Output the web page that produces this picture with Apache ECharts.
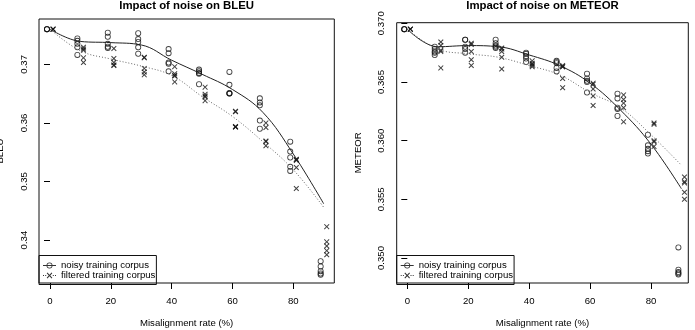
<!DOCTYPE html>
<html><head><meta charset="utf-8">
<script src="https://cdn.jsdelivr.net/npm/echarts@6/dist/echarts.min.js"></script>
<style>html,body{margin:0;padding:0;background:#fff}#c{width:695px;height:330px}</style>
</head><body><div id="c"></div>
<script>
// ---------- data ----------
const rates = [0, 10, 20, 30, 40, 50, 60, 70, 80, 90];
const xTicks = [0, 20, 40, 60, 80];
const bleuTicks = [0.34, 0.35, 0.36, 0.37];
const meteorTicks = [0.350, 0.355, 0.360, 0.365, 0.370];
const legendNames = ['noisy training corpus', 'filtered training corpus'];
const titles = ['Impact of noise on BLEU', 'Impact of noise on METEOR'];
const xName = 'Misalignment rate (%)';
const yNames = ['BLEU', 'METEOR'];

// replicate runs per misalignment rate
const bleuNoisy = [
  [0.3760, 0.3760, 0.3760],
  [0.3744, 0.3740, 0.3735, 0.3729, 0.3716],
  [0.3754, 0.3747, 0.3735, 0.3730, 0.3728],
  [0.3753, 0.3743, 0.3738, 0.3729, 0.3718],
  [0.3726, 0.3719, 0.3703, 0.3701, 0.3688],
  [0.3691, 0.3688, 0.3685, 0.3684, 0.3666],
  [0.3687, 0.3665, 0.3651, 0.3650, 0.3650],
  [0.3642, 0.3635, 0.3630, 0.3604, 0.3590],
  [0.3568, 0.3551, 0.3541, 0.3525, 0.3518],
  [0.3364, 0.3355, 0.3347, 0.3343, 0.3341]
];
const bleuFiltered = [
  [0.3760, 0.3760, 0.3760],
  [0.3729, 0.3726, 0.3724, 0.3711, 0.3703],
  [0.3727, 0.3710, 0.3703, 0.3699, 0.3698],
  [0.3712, 0.3711, 0.3693, 0.3687, 0.3682],
  [0.3696, 0.3684, 0.3681, 0.3680, 0.3670],
  [0.3661, 0.3649, 0.3646, 0.3644, 0.3638],
  [0.3620, 0.3619, 0.3594, 0.3593, 0.3593],
  [0.3600, 0.3592, 0.3569, 0.3568, 0.3561],
  [0.3538, 0.3537, 0.3536, 0.3524, 0.3488],
  [0.3423, 0.3397, 0.3390, 0.3382, 0.3375]
];
const meteorNoisy = [
  [0.3695, 0.3695, 0.3695],
  [0.3680, 0.3678, 0.3676, 0.3675, 0.3673],
  [0.3686, 0.3686, 0.3680, 0.3678, 0.3675],
  [0.3686, 0.3683, 0.3681, 0.3680, 0.3679],
  [0.3675, 0.3674, 0.3672, 0.3670, 0.3667],
  [0.3668, 0.3667, 0.3666, 0.3662, 0.3659],
  [0.3657, 0.3653, 0.3651, 0.3650, 0.3641],
  [0.3640, 0.3636, 0.3628, 0.3627, 0.3621],
  [0.3605, 0.3596, 0.3593, 0.3591, 0.3589],
  [0.3509, 0.3490, 0.3488, 0.3487, 0.3486]
];
const meteorFiltered = [
  [0.3695, 0.3695, 0.3695],
  [0.3684, 0.3681, 0.3677, 0.3676, 0.3662],
  [0.3683, 0.3682, 0.3676, 0.3669, 0.3664],
  [0.3679, 0.3678, 0.3676, 0.3671, 0.3661],
  [0.3668, 0.3666, 0.3665, 0.3664, 0.3663],
  [0.3664, 0.3663, 0.3663, 0.3653, 0.3645],
  [0.3649, 0.3648, 0.3644, 0.3638, 0.3630],
  [0.3639, 0.3635, 0.3632, 0.3628, 0.3616],
  [0.3615, 0.3614, 0.3600, 0.3599, 0.3595],
  [0.3569, 0.3565, 0.3564, 0.3556, 0.3550]
];
// smoothed fits at each rate
const bleuNoisyFit    = [0.3760, 0.3739, 0.3737, 0.3733, 0.3707, 0.3683, 0.3657, 0.3618, 0.3547, 0.3462];
const bleuFilteredFit = [0.3760, 0.3723, 0.3709, 0.3697, 0.3681, 0.3645, 0.3611, 0.3568, 0.3520, 0.3456];
const meteorNoisyFit    = [0.3695, 0.3680, 0.3681, 0.3680, 0.3673, 0.3664, 0.3649, 0.3626, 0.3597, 0.3559];
const meteorFilteredFit = [0.3695, 0.3678, 0.3674, 0.3671, 0.3664, 0.3656, 0.3641, 0.3628, 0.3605, 0.3579];
const jitter = 1; // noisy drawn at rate-1, filtered at rate+1

// ---------- build ----------
const FONT = 'Liberation Sans, Arial, sans-serif';
const RING = 'path://M5,0A5,5,0,1,1,5,10A5,5,0,1,1,5,0ZM5,1.4A3.6,3.6,0,1,0,5,8.6A3.6,3.6,0,1,0,5,1.4Z';
const CROSS = 'path://M0,1.3L1.3,0L5,3.7L8.7,0L10,1.3L6.3,5L10,8.7L8.7,10L5,6.3L1.3,10L0,8.7L3.7,5Z';
// legend keys (13 x 6 box): line + open circle, dotted line + cross
const KEY_NOISY = 'path://M0,2.5H13V3.5H0Z' +
  'M6.5,0A3,3,0,1,1,6.5,6A3,3,0,1,1,6.5,0Z' +
  'M6.5,0.75A2.25,2.25,0,1,0,6.5,5.25A2.25,2.25,0,1,0,6.5,0.75Z';
const KEY_FILTERED = 'path://M0,2.5H1V3.5H0ZM2.2,2.5H3.2V3.5H2.2ZM9.8,2.5H10.8V3.5H9.8ZM12,2.5H13V3.5H12Z' +
  'M3.7,0.75L4.45,0L6.5,2.25L8.55,0L9.3,0.75L7.25,3L9.3,5.25L8.55,6L6.5,3.75L4.45,6L3.7,5.25L5.75,3Z';

function pts(lists, off) {
  const out = [];
  lists.forEach((vals, i) => vals.forEach(v => out.push([rates[i] + off, v])));
  return out;
}
function fit(vals) { return vals.map((v, i) => [rates[i], v]); }

const grids = [
  {left: 39, top: 19, width: 295.3, height: 264},
  {left: 396.7, top: 22.7, width: 291.6, height: 260.3}
];
const xRanges = [[-3.62, 93.49], [-3.48, 92.25]];
const yRanges = [[0.33268, 0.37773], [0.34787, 0.37005]];
const yTickSets = [bleuTicks, meteorTicks];
const yDigits = [2, 3];

const textBase = {fontFamily: FONT, color: '#000'};

const option = {
  animation: false,
  backgroundColor: '#fff',
  title: titles.map((t, i) => ({
    text: t, left: grids[i].left + grids[i].width / 2, top: 0.5, textAlign: 'center', padding: 0,
    textStyle: Object.assign({fontSize: 11.4, fontWeight: 'bold'}, textBase)
  })),
  grid: grids.map(g => Object.assign({show: true, borderColor: '#111', borderWidth: 1, backgroundColor: 'transparent', containLabel: false, outerBoundsMode: 'none'}, g)),
  xAxis: [0, 1].map(i => ({
    type: 'value', gridIndex: i, min: xRanges[i][0], max: xRanges[i][1],
    name: xName, nameLocation: 'middle', nameGap: 35,
    nameTextStyle: Object.assign({fontSize: 9.6}, textBase),
    axisLine: {show: false}, splitLine: {show: false},
    axisTick: {show: true, inside: false, length: 6, customValues: xTicks, lineStyle: {color: '#000', width: 1}},
    axisLabel: Object.assign({customValues: xTicks, margin: 13, fontSize: 9.6}, textBase)
  })),
  yAxis: [0, 1].map(i => ({
    type: 'value', gridIndex: i, min: yRanges[i][0], max: yRanges[i][1],
    name: yNames[i], nameLocation: 'middle', nameGap: 33.5,
    nameTextStyle: Object.assign({fontSize: 9.6}, textBase),
    axisLine: {show: false}, splitLine: {show: false},
    axisTick: {show: true, inside: false, length: 6, customValues: yTickSets[i], lineStyle: {color: '#000', width: 1}},
    axisLabel: Object.assign({customValues: yTickSets[i], rotate: 90, margin: 10, fontSize: 9.6,
      formatter: v => Number(v).toFixed(yDigits[i])}, textBase)
  })),
  legend: [0, 1].map(i => ({
    left: grids[i].left, top: 255.5, orient: 'vertical',
    data: [{name: legendNames[0], icon: KEY_NOISY}, {name: legendNames[1], icon: KEY_FILTERED}],
    itemWidth: 13, itemHeight: 6, itemGap: 0, padding: [5, 1, 4, 4],
    borderColor: '#111', borderWidth: 1, borderRadius: 0, selectedMode: false,
    itemStyle: {borderWidth: 0},
    textStyle: Object.assign({fontSize: 9.6, lineHeight: 9.5}, textBase)
  })),
  series: []
};

const panels = [
  [bleuNoisy, bleuFiltered, bleuNoisyFit, bleuFilteredFit],
  [meteorNoisy, meteorFiltered, meteorNoisyFit, meteorFilteredFit]
];
panels.forEach((p, i) => {
  option.series.push({
    type: 'scatter', name: 'noisy pts ' + i, xAxisIndex: i, yAxisIndex: i,
    data: pts(p[0], -jitter), symbol: RING, symbolSize: 6, itemStyle: {color: '#111'}, silent: true
  });
  option.series.push({
    type: 'scatter', name: 'filtered pts ' + i, xAxisIndex: i, yAxisIndex: i,
    data: pts(p[1], jitter), symbol: CROSS, symbolSize: 5.5, itemStyle: {color: '#111'}, silent: true
  });
  option.series.push({
    type: 'line', name: legendNames[0], xAxisIndex: i, yAxisIndex: i, data: fit(p[2]),
    smooth: 0.4, symbol: 'none', itemStyle: {color: '#333', borderWidth: 0},
    lineStyle: {color: '#222', width: 1, type: 'solid'}, silent: true
  });
  option.series.push({
    type: 'line', name: legendNames[1], xAxisIndex: i, yAxisIndex: i, data: fit(p[3]),
    smooth: 0.4, symbol: 'none', itemStyle: {color: '#333', borderWidth: 0},
    lineStyle: {color: '#666', width: 1, type: [1, 2]}, silent: true
  });
});

const chart = echarts.init(document.getElementById('c'), null, {renderer: 'canvas'});
chart.setOption(option);
</script>
</body></html>
